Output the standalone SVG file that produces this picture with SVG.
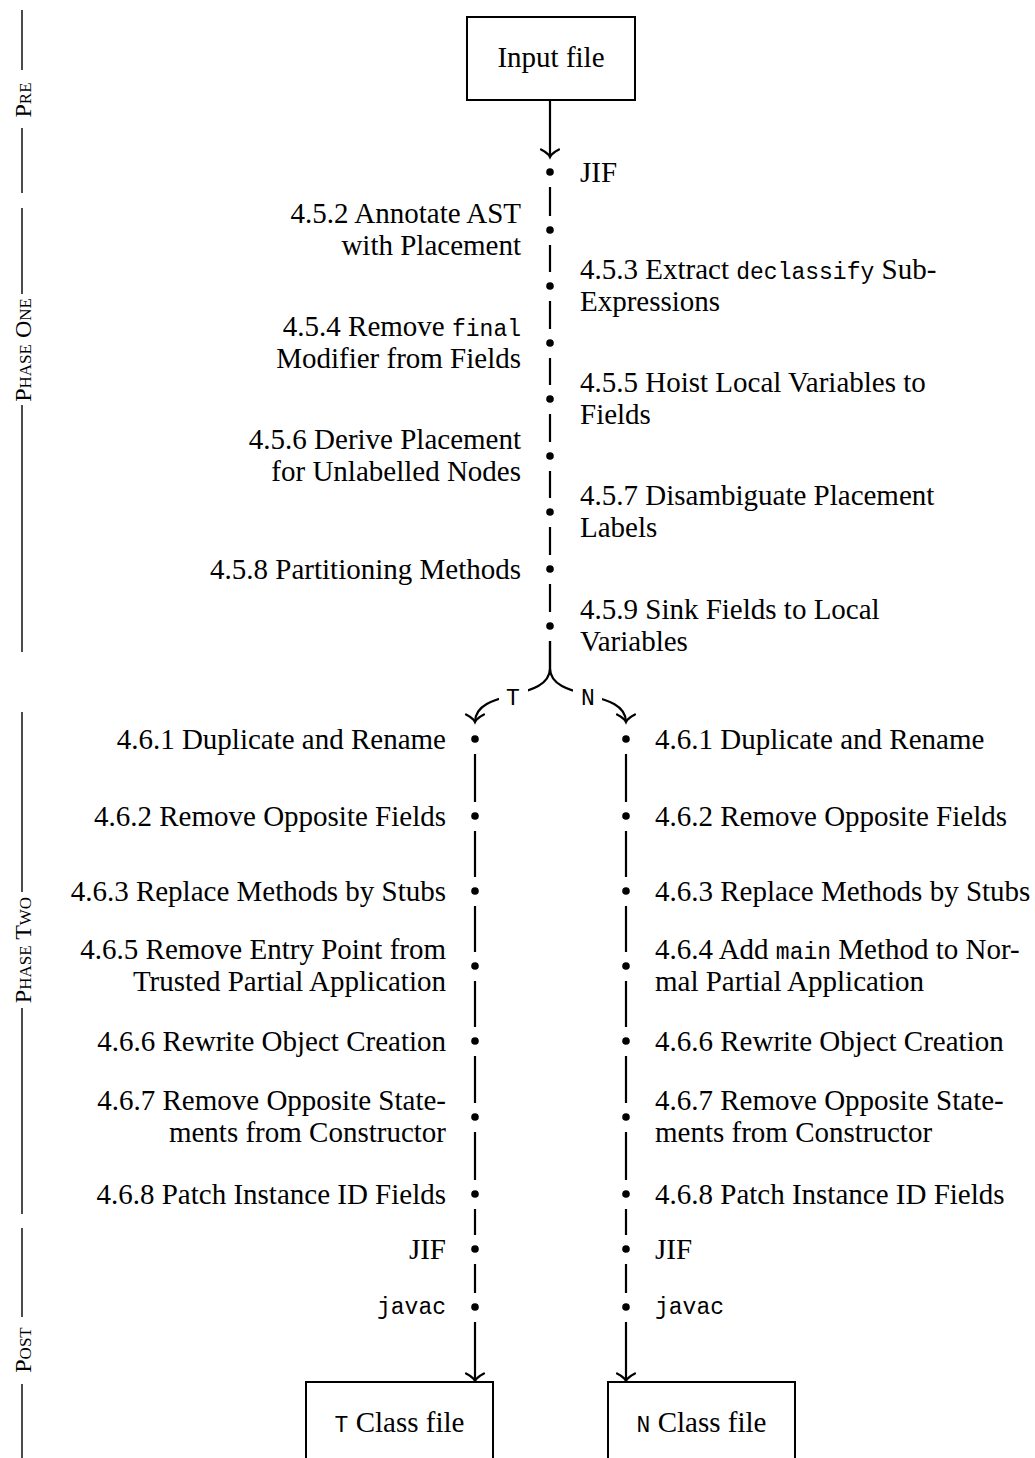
<svg xmlns="http://www.w3.org/2000/svg" width="1035" height="1458" viewBox="0 0 1035 1458">
  <style>
    text { font-family: "Liberation Serif", "Times New Roman", serif; font-size: 29px; fill: #000; }
    .l { text-anchor: end; }
    .r { text-anchor: start; }
    .c { text-anchor: middle; }
    .tt { font-family: "Liberation Mono", "Courier New", monospace; font-size: 23px; }
    .phase { font-size: 24px; font-variant: small-caps; text-anchor: middle; }
    .box { fill: #fff; stroke: #000; stroke-width: 2; }
    .dot { fill: #000; }
    .edge { fill: none; stroke: #000; stroke-width: 2.2; }
    .rule { fill: none; stroke: #000; stroke-width: 1.4; }
    .mask { fill: #fff; stroke: none; }
  </style>
  <defs>
    <marker id="to" markerUnits="userSpaceOnUse" markerWidth="24" markerHeight="24" viewBox="-12 -12 24 24" refX="0" refY="0" orient="auto" overflow="visible">
      <path d="M-7.5,-9 Q-3.5,-1.5 0,0 Q-3.5,1.5 -7.5,9" fill="none" stroke="#000" stroke-width="2.2" stroke-linecap="round"/>
    </marker>
  </defs>

  <rect width="1035" height="1458" fill="#fff"/>

  <!-- phase rules down the left margin -->
  <g id="phases">
    <g id="phase-pre">
      <path class="rule" d="M22,10 V70 M22,128 V193"/>
      <text class="phase" x="31" y="100" transform="rotate(-90 31 100)">Pre</text>
    </g>
    <g id="phase-one">
      <path class="rule" d="M22,208 V294 M22,405 V652"/>
      <text class="phase" x="31" y="350" transform="rotate(-90 31 350)">Phase One</text>
    </g>
    <g id="phase-two">
      <path class="rule" d="M22,712 V892 M22,1008 V1214"/>
      <text class="phase" x="31" y="950" transform="rotate(-90 31 950)">Phase Two</text>
    </g>
    <g id="phase-post">
      <path class="rule" d="M22,1228 V1317 M22,1384 V1458"/>
      <text class="phase" x="31" y="1350" transform="rotate(-90 31 1350)">Post</text>
    </g>
  </g>

  <!-- connectors -->
  <g id="connectors">
    <path class="edge" d="M550,100 V157" marker-end="url(#to)"/>
    <path class="edge" d="M550,187 V216 M550,245 V272 M550,301 V329 M550,358 V385 M550,414 V442 M550,471 V498 M550,527 V555 M550,584 V612"/>
    <path class="edge" d="M550,641 V668 C550,702 475,688 475,722" marker-end="url(#to)"/>
    <path class="edge" d="M550,641 V668 C550,702 626,688 626,722" marker-end="url(#to)"/>
    <rect class="mask" x="499" y="685" width="29" height="24"/>
    <rect class="mask" x="573" y="685" width="29" height="24"/>
    <text class="tt c" x="513" y="705">T</text>
    <text class="tt c" x="588" y="705">N</text>
    <path class="edge" d="M475,754 V802 M475,831 V877 M475,906 V952 M475,981 V1027 M475,1056 V1103 M475,1132 V1180 M475,1209 V1235 M475,1264 V1293"/>
    <path class="edge" d="M626,754 V802 M626,831 V877 M626,906 V952 M626,981 V1027 M626,1056 V1103 M626,1132 V1180 M626,1209 V1235 M626,1264 V1293"/>
    <path class="edge" d="M475,1322 V1381" marker-end="url(#to)"/>
    <path class="edge" d="M626,1322 V1381" marker-end="url(#to)"/>
  </g>

  <!-- input and output files -->
  <g id="input-file">
    <rect class="box" x="467" y="17" width="168" height="83"/>
    <text class="c" x="551" y="67">Input file</text>
  </g>
  <g id="t-class-file">
    <rect class="box" x="306" y="1382" width="187" height="84"/>
    <text class="c" x="399.5" y="1432"><tspan class="tt">T</tspan> Class file</text>
  </g>
  <g id="n-class-file">
    <rect class="box" x="608" y="1382" width="187" height="84"/>
    <text class="c" x="701.5" y="1432"><tspan class="tt">N</tspan> Class file</text>
  </g>

  <!-- phase one passes -->
  <g id="p1-jif"><circle class="dot" cx="550" cy="172" r="3.8"/><text class="r" x="580" y="182">JIF</text></g>
  <g id="p1-452"><circle class="dot" cx="550" cy="230" r="3.8"/>
    <text class="l" x="521" y="223">4.5.2 Annotate AST</text><text class="l" x="521" y="255">with Placement</text></g>
  <g id="p1-453"><circle class="dot" cx="550" cy="286" r="3.8"/>
    <text class="r" x="580" y="279">4.5.3 Extract <tspan class="tt">declassify</tspan> Sub-</text><text class="r" x="580" y="311">Expressions</text></g>
  <g id="p1-454"><circle class="dot" cx="550" cy="343" r="3.8"/>
    <text class="l" x="521" y="336">4.5.4 Remove <tspan class="tt">final</tspan></text><text class="l" x="521" y="368">Modifier from Fields</text></g>
  <g id="p1-455"><circle class="dot" cx="550" cy="399" r="3.8"/>
    <text class="r" x="580" y="392">4.5.5 Hoist Local Variables to</text><text class="r" x="580" y="424">Fields</text></g>
  <g id="p1-456"><circle class="dot" cx="550" cy="456" r="3.8"/>
    <text class="l" x="521" y="449">4.5.6 Derive Placement</text><text class="l" x="521" y="481">for Unlabelled Nodes</text></g>
  <g id="p1-457"><circle class="dot" cx="550" cy="512" r="3.8"/>
    <text class="r" x="580" y="505">4.5.7 Disambiguate Placement</text><text class="r" x="580" y="537">Labels</text></g>
  <g id="p1-458"><circle class="dot" cx="550" cy="569" r="3.8"/>
    <text class="l" x="521" y="579">4.5.8 Partitioning Methods</text></g>
  <g id="p1-459"><circle class="dot" cx="550" cy="626" r="3.8"/>
    <text class="r" x="580" y="619">4.5.9 Sink Fields to Local</text><text class="r" x="580" y="651">Variables</text></g>

  <!-- phase two, trusted branch -->
  <g id="t-461"><circle class="dot" cx="475" cy="739" r="3.8"/><text class="l" x="446" y="749">4.6.1 Duplicate and Rename</text></g>
  <g id="t-462"><circle class="dot" cx="475" cy="816" r="3.8"/><text class="l" x="446" y="826">4.6.2 Remove Opposite Fields</text></g>
  <g id="t-463"><circle class="dot" cx="475" cy="891" r="3.8"/><text class="l" x="446" y="901">4.6.3 Replace Methods by Stubs</text></g>
  <g id="t-465"><circle class="dot" cx="475" cy="966" r="3.8"/>
    <text class="l" x="446" y="959">4.6.5 Remove Entry Point from</text><text class="l" x="446" y="991">Trusted Partial Application</text></g>
  <g id="t-466"><circle class="dot" cx="475" cy="1041" r="3.8"/><text class="l" x="446" y="1051">4.6.6 Rewrite Object Creation</text></g>
  <g id="t-467"><circle class="dot" cx="475" cy="1117" r="3.8"/>
    <text class="l" x="446" y="1110">4.6.7 Remove Opposite State-</text><text class="l" x="446" y="1142">ments from Constructor</text></g>
  <g id="t-468"><circle class="dot" cx="475" cy="1194" r="3.8"/><text class="l" x="446" y="1204">4.6.8 Patch Instance ID Fields</text></g>
  <g id="t-jif"><circle class="dot" cx="475" cy="1249" r="3.8"/><text class="l" x="446" y="1259">JIF</text></g>
  <g id="t-javac"><circle class="dot" cx="475" cy="1307" r="3.8"/><text class="l tt" x="446" y="1314">javac</text></g>

  <!-- phase two, normal branch -->
  <g id="n-461"><circle class="dot" cx="626" cy="739" r="3.8"/><text class="r" x="655" y="749">4.6.1 Duplicate and Rename</text></g>
  <g id="n-462"><circle class="dot" cx="626" cy="816" r="3.8"/><text class="r" x="655" y="826">4.6.2 Remove Opposite Fields</text></g>
  <g id="n-463"><circle class="dot" cx="626" cy="891" r="3.8"/><text class="r" x="655" y="901">4.6.3 Replace Methods by Stubs</text></g>
  <g id="n-464"><circle class="dot" cx="626" cy="966" r="3.8"/>
    <text class="r" x="655" y="959">4.6.4 Add <tspan class="tt">main</tspan> Method to Nor-</text><text class="r" x="655" y="991">mal Partial Application</text></g>
  <g id="n-466"><circle class="dot" cx="626" cy="1041" r="3.8"/><text class="r" x="655" y="1051">4.6.6 Rewrite Object Creation</text></g>
  <g id="n-467"><circle class="dot" cx="626" cy="1117" r="3.8"/>
    <text class="r" x="655" y="1110">4.6.7 Remove Opposite State-</text><text class="r" x="655" y="1142">ments from Constructor</text></g>
  <g id="n-468"><circle class="dot" cx="626" cy="1194" r="3.8"/><text class="r" x="655" y="1204">4.6.8 Patch Instance ID Fields</text></g>
  <g id="n-jif"><circle class="dot" cx="626" cy="1249" r="3.8"/><text class="r" x="655" y="1259">JIF</text></g>
  <g id="n-javac"><circle class="dot" cx="626" cy="1307" r="3.8"/><text class="r tt" x="655" y="1314">javac</text></g>
</svg>
